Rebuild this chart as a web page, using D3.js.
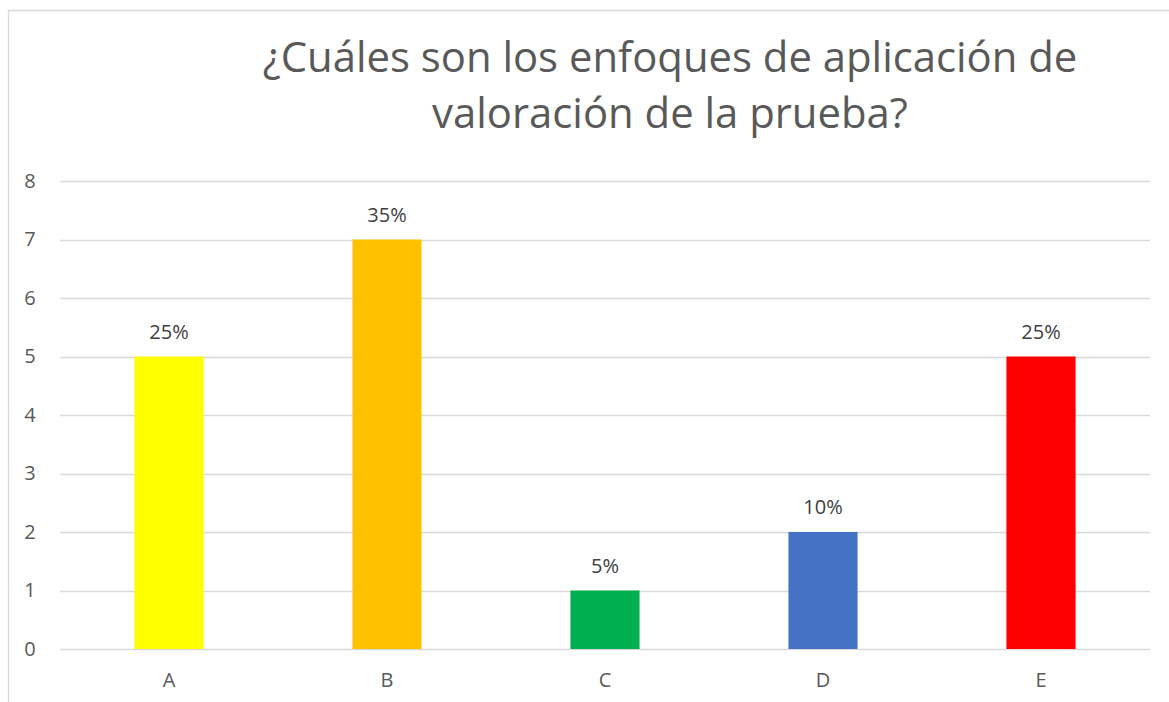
<!DOCTYPE html>
<html>
<head>
<meta charset="utf-8">
<script src="https://cdn.jsdelivr.net/npm/d3@7"></script>
<style>
  html, body { margin: 0; padding: 0; background: #fff; }
  svg { display: block; font-family: "Open Sans", "Noto Sans", sans-serif; }
  .grid line { stroke: #d9d9d9; stroke-width: 1.3; }
  .tick text { fill: #595959; }
</style>
</head>
<body>
<svg id="chart" width="1169" height="702"></svg>
<script>
// --- Data --------------------------------------------------------------------
const categories = ["A", "B", "C", "D", "E"];
const counts = [5, 7, 1, 2, 5];
const percentLabels = ["25%", "35%", "5%", "10%", "25%"];
const barColors = ["#FFFF00", "#FFC000", "#00B050", "#4472C4", "#FF0000"];
const yTicks = [0, 1, 2, 3, 4, 5, 6, 7, 8];
const titleLines = ["¿Cuáles son los enfoques de aplicación de", "valoración de la prueba?"];

// --- Layout ------------------------------------------------------------------
const svg = d3.select("#chart");
const W = 1169, H = 702;
const plot = { left: 60, right: 1150, top: 181, bottom: 649 };

// chart frame (cropped at right and bottom in the source)
svg.append("path")
  .attr("d", `M8.5,${H + 2} V10.5 H${W + 2}`)
  .attr("fill", "none")
  .attr("stroke", "#d9d9d9")
  .attr("stroke-width", 1.3);

// title
const title = svg.append("text")
  .attr("text-anchor", "middle")
  .attr("fill", "#595959")
  .attr("font-size", 41);
title.selectAll("tspan")
  .data(titleLines).enter()
  .append("tspan")
  .attr("x", 670)
  .attr("y", (d, i) => 72 + i * 56)
  .text(d => d);
// fit first line to source width
const w0 = title.select("tspan").node().getComputedTextLength();
title.attr("font-size", 41 * 815 / w0);

// scales
const x = d3.scaleBand()
  .domain(categories)
  .range([plot.left, plot.right])
  .paddingInner(0.683)
  .paddingOuter(0.3415);
const y = d3.scaleLinear()
  .domain([0, 8])
  .range([plot.bottom, plot.top]);

// gridlines
svg.append("g")
  .attr("class", "grid")
  .selectAll("line")
  .data(yTicks).enter()
  .append("line")
  .attr("x1", plot.left).attr("x2", plot.right)
  .attr("y1", d => Math.round(y(d)) + 0.5)
  .attr("y2", d => Math.round(y(d)) + 0.5);

// y axis labels
const yAxis = svg.append("g")
  .attr("transform", `translate(38,0)`)
  .call(d3.axisLeft(y).tickValues(yTicks).tickSize(0).tickPadding(0));
yAxis.select(".domain").remove();
yAxis.selectAll("text")
  .attr("text-anchor", "middle")
  .attr("x", -8)
  .attr("font-family", "Open Sans")
  .attr("font-size", 20);

// bars
const rows = categories.map((c, i) => ({ cat: c, v: counts[i], lab: percentLabels[i], color: barColors[i] }));
svg.append("g")
  .selectAll("rect")
  .data(rows).enter()
  .append("rect")
  .attr("x", d => x(d.cat))
  .attr("width", x.bandwidth())
  .attr("y", d => y(d.v))
  .attr("height", d => y(0) - y(d.v))
  .attr("fill", d => d.color);

// data labels
svg.append("g")
  .selectAll("text")
  .data(rows).enter()
  .append("text")
  .attr("x", d => x(d.cat) + x.bandwidth() / 2)
  .attr("y", d => y(d.v) - 18)
  .attr("text-anchor", "middle")
  .attr("fill", "#404040")
  .attr("font-size", 20)
  .text(d => d.lab);

// x axis labels
const xAxis = svg.append("g")
  .attr("transform", `translate(0,${plot.bottom})`)
  .call(d3.axisBottom(x).tickSize(0).tickPadding(0));
xAxis.select(".domain").remove();
xAxis.selectAll("text")
  .attr("dy", null)
  .attr("y", 38)
  .attr("font-family", "Open Sans")
  .attr("font-size", 20);
</script>
</body>
</html>
